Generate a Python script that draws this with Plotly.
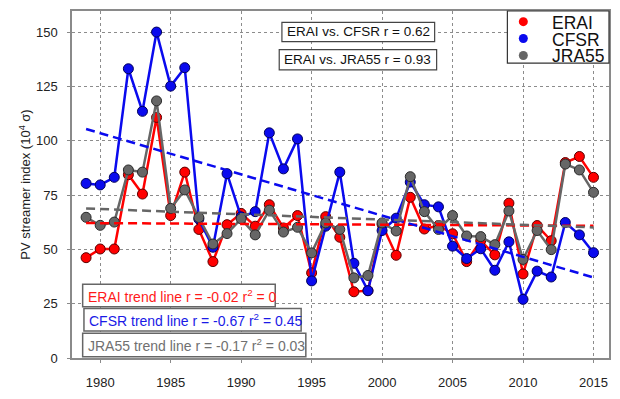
import numpy as np
import plotly.graph_objects as go

# Annual PV streamer index (10^4 sigma) for three reanalyses
years = list(range(1979, 2016))
erai = [46.2, 50.2, 50.2, 84.4, 75.5, 110.8, 65.6, 85.6, 59.2, 44.4,
        61.4, 66.6, 60.7, 70.6, 59.9, 65.6, 39.2, 65.1, 55.6, 30.5,
        31.0, 61.5, 47.3, 74.0, 59.4, 61.0, 57.2, 44.4, 54.0, 47.5,
        71.3, 38.7, 61.0, 54.0, 90.0, 92.8, 83.2]
cfsr = [80.4, 79.7, 83.2, 133.2, 113.6, 150.1, 125.2, 133.7, 64.0, 51.0,
        84.9, 65.0, 67.4, 103.7, 87.1, 100.9, 35.5, 60.7, 85.6, 43.6,
        31.0, 58.7, 64.4, 81.0, 70.6, 69.6, 51.5, 45.8, 50.3, 40.4,
        53.5, 27.0, 40.0, 37.3, 62.4, 56.7, 48.5]
jra55 = [64.8, 61.1, 62.6, 86.6, 85.6, 118.4, 68.9, 77.4, 64.7, 52.5,
         57.3, 64.1, 56.7, 68.1, 58.0, 60.2, 48.4, 62.2, 59.2, 36.9,
         38.0, 62.2, 58.5, 83.5, 67.4, 59.2, 65.6, 56.2, 55.9, 52.2,
         67.7, 45.4, 58.7, 49.9, 89.3, 86.6, 76.3]

series_names = ["ERAI", "CFSR", "JRA55"]
corr_labels = ["ERAI vs. CFSR r = 0.62", "ERAI vs. JRA55 r = 0.93"]
trend_labels = ["ERAI trend line r = -0.02 r<sup>2</sup> = 0",
                "CFSR trend line r = -0.67 r<sup>2</sup> = 0.45",
                "JRA55 trend line r = -0.17 r<sup>2</sup> = 0.03"]
y_ticks = [0, 25, 50, 75, 100, 125, 150]
x_ticks = [1980, 1985, 1990, 1995, 2000, 2005, 2010, 2015]

FONT = "Liberation Sans, Arial, Helvetica, sans-serif"
line_colors = {"ERAI": "#ff0000", "CFSR": "#0a0aee", "JRA55": "#666666"}
edge_colors = {"ERAI": "#5a0000", "CFSR": "#00005a", "JRA55": "#2a2a2a"}
text_colors = {"ERAI": "#ff1a1a", "CFSR": "#1a1ae6", "JRA55": "#707070"}

data = {"ERAI": erai, "CFSR": cfsr, "JRA55": jra55}

fig = go.Figure()

# Annual series: lines with outlined circular markers
for name in series_names:
    fig.add_trace(go.Scatter(
        x=years, y=data[name], mode="lines+markers", name=name,
        showlegend=False,
        line=dict(color=line_colors[name], width=2.5),
        marker=dict(size=10, color=line_colors[name],
                    line=dict(color=edge_colors[name], width=1)),
    ))

# Least-squares trend lines over the full period
yr = np.array(years, dtype=float)
for name in series_names:
    slope, icpt = np.polyfit(yr, np.array(data[name]), 1)
    ends = np.array([years[0], years[-1]], dtype=float)
    fig.add_trace(go.Scatter(
        x=ends, y=icpt + slope * ends, mode="lines", showlegend=False,
        line=dict(color=line_colors[name], width=2.5, dash="9px,5px"),
        hoverinfo="skip",
    ))

# Plot-area pixel geometry helpers (paper coordinates)
L, R, T, B = 72, 611, 9, 368


def px(x):
    return (x - L) / (R - L)


def py(y):
    return (B - y) / (B - T)


shapes = []
annotations = []

# Legend box with coloured dots
shapes.append(dict(type="rect", xref="paper", yref="paper",
                   x0=px(509), x1=1.0, y0=py(63), y1=1.0,
                   line=dict(color="#333333", width=1.2),
                   fillcolor="white", layer="above"))
for i, name in enumerate(series_names):
    cy = 20 + i * 17.5
    shapes.append(dict(type="circle", xref="paper", yref="paper",
                       xsizemode="pixel", ysizemode="pixel",
                       xanchor=px(525), yanchor=py(cy),
                       x0=-4.5, x1=4.5, y0=-4.5, y1=4.5,
                       fillcolor=line_colors[name],
                       line=dict(width=0), layer="above"))
    annotations.append(dict(xref="paper", yref="paper", x=px(552),
                            y=py(cy + 0.5), xanchor="left", yanchor="middle",
                            text=name, showarrow=False, height=17,
                            font=dict(family=FONT, size=17.5, color="#111111")))

# Correlation boxes
corr_boxes = [(282.7, 436, 20.7, 40.7), (280, 438, 49, 70)]
for (x0, x1, y0, y1), txt in zip(corr_boxes, corr_labels):
    shapes.append(dict(type="rect", xref="paper", yref="paper",
                       x0=px(x0), x1=px(x1), y0=py(y1), y1=py(y0),
                       line=dict(color="#444444", width=1.2),
                       fillcolor="white", layer="above"))
    annotations.append(dict(xref="paper", yref="paper",
                            x=px((x0 + x1) / 2), y=py((y0 + y1) / 2),
                            xanchor="center", yanchor="middle",
                            text=txt, showarrow=False,
                            font=dict(family=FONT, size=13.5, color="#111111")))

# Trend statistics boxes
trend_boxes = [(82.7, 276, 291.7, 315), (84, 302, 316.7, 340),
               (82.7, 306.7, 342.3, 366.7)]
for (x0, x1, y0, y1), txt, name in zip(trend_boxes, trend_labels, series_names):
    shapes.append(dict(type="rect", xref="paper", yref="paper",
                       x0=px(x0), x1=px(x1), y0=py(y1), y1=py(y0),
                       line=dict(color="#666666", width=1.5),
                       fillcolor="white", layer="above"))
    annotations.append(dict(xref="paper", yref="paper",
                            x=px(x0 + 3), y=py((y0 + y1) / 2),
                            xanchor="left", yanchor="middle",
                            text=txt, showarrow=False,
                            font=dict(family=FONT, size=14,
                                      color=text_colors[name])))

fig.update_layout(
    width=620, height=399,
    margin=dict(l=L, r=620 - R, t=T, b=399 - B),
    paper_bgcolor="white", plot_bgcolor="white",
    font=dict(family=FONT, size=13, color="#222222"),
    shapes=shapes, annotations=annotations,
    xaxis=dict(range=[1978, 2016.1], tickvals=x_ticks,
               showgrid=True, gridcolor="#8c8c8c", griddash="dot",
               gridwidth=1.2, zeroline=False,
               showline=True, mirror=True, linecolor="#8a8a8a", linewidth=1.5,
               ticks="outside", ticklen=3, tickcolor="#8a8a8a",
               ticklabelstandoff=9,
               tickfont=dict(family=FONT, size=13, color="#222222")),
    yaxis=dict(range=[0, 159.8], tickvals=y_ticks,
               showgrid=True, gridcolor="#8c8c8c", griddash="dot",
               gridwidth=1.2, zeroline=False,
               showline=True, mirror=True, linecolor="#8a8a8a", linewidth=1.5,
               ticks="outside", ticklen=3, tickcolor="#8a8a8a",
               ticklabelstandoff=7,
               tickfont=dict(family=FONT, size=13, color="#222222"),
               title=dict(text="PV streamer index (10<sup>4</sup> σ)",
                          font=dict(family=FONT, size=13, color="#222222"),
                          standoff=2)),
)

fig.write_html("out.html")
